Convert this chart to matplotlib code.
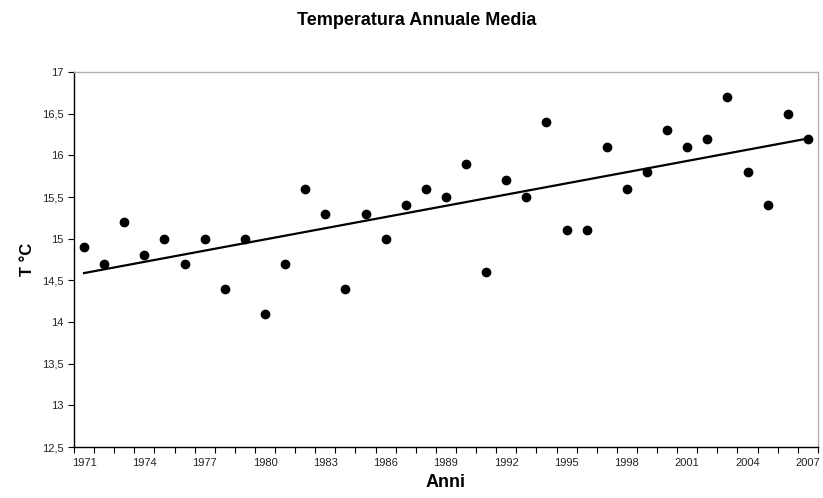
import matplotlib
matplotlib.use("Agg")
import matplotlib.pyplot as plt
import numpy as np
from matplotlib.ticker import FixedLocator, FuncFormatter

plt.rcParams['font.family'] = ['Liberation Sans', 'DejaVu Sans']

anni = list(range(1971, 2008))
temperature = [14.9, 14.7, 15.2, 14.8, 15.0, 14.7, 15.0, 14.4, 15.0, 14.1,
               14.7, 15.6, 15.3, 14.4, 15.3, 15.0, 15.4, 15.6, 15.5, 15.9,
               14.6, 15.7, 15.5, 16.4, 15.1, 15.1, 16.1, 15.6, 15.8, 16.3,
               16.1, 16.2, 16.7, 15.8, 15.4, 16.5, 16.2]

x = np.arange(len(anni))  # asse a categorie come in Excel
coef = np.polyfit(x, temperature, 1)
trend = np.polyval(coef, x)

fig = plt.figure(figsize=(8.23, 4.98), dpi=100)
ax = fig.add_axes([0.0899, 0.1024, 0.9039, 0.7530])

ax.plot(x, trend, color='black', linewidth=1.6, zorder=2)
ax.plot(x, temperature, linestyle='none', marker='o', markersize=6,
        color='black', zorder=3)

ax.set_xlim(-0.5, len(anni) - 0.5)
ax.set_ylim(12.5, 17)

# tacche tra le categorie, etichette ogni 3 anni
ax.xaxis.set_major_locator(FixedLocator(x[::3]))
ax.set_xticklabels([str(a) for a in anni[::3]])
ax.xaxis.set_minor_locator(FixedLocator(np.arange(-0.5, len(anni), 1)))
ax.tick_params(axis='x', which='major', length=0, pad=8, labelsize=8,
               labelcolor='#222222')
ax.tick_params(axis='x', which='minor', length=4, width=0.8, direction='out')

ax.set_yticks(np.arange(12.5, 17.01, 0.5))
ax.yaxis.set_major_formatter(FuncFormatter(
    lambda v, p: (f'{v:g}').replace('.', ',')))
ax.tick_params(axis='y', length=4, width=0.8, direction='out', labelsize=8,
               labelcolor='#222222')

for s in ['top', 'right']:
    ax.spines[s].set_color('#b0b0b0')
    ax.spines[s].set_linewidth(1.0)
for s in ['left', 'bottom']:
    ax.spines[s].set_color('black')
    ax.spines[s].set_linewidth(1.0)

fig.text(0.506, 0.958, 'Temperatura Annuale Media', ha='center', va='center',
         fontsize=13, fontweight='bold')
ax.set_xlabel('Anni', fontsize=13, fontweight='bold', labelpad=4)
ax.set_ylabel('T °C', fontsize=12, fontweight='bold', labelpad=5)

fig.savefig('out.png', dpi=100)
